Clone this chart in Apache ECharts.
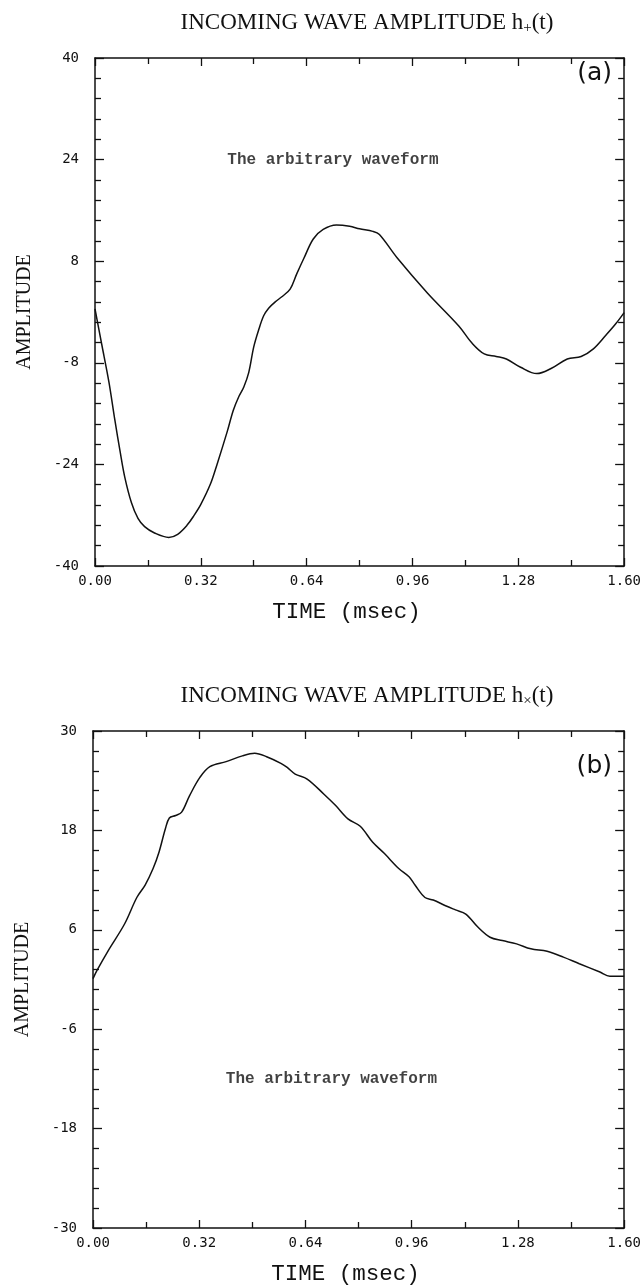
<!DOCTYPE html>
<html><head><meta charset="utf-8">
<script src="https://cdn.jsdelivr.net/npm/echarts@6/dist/echarts.min.js"></script>
<style>html,body{margin:0;padding:0;background:#fff}#c{width:644px;height:1287px}</style>
</head><body><div id="c"></div>
<script>
// ---- data (time in msec, amplitude) ----
const timeA = [0.00,0.02,0.042,0.06,0.076,0.09,0.11,0.13,0.15,0.18,0.223,0.25,0.278,0.30,0.32,0.349,0.369,0.40,0.418,0.435,0.45,0.465,0.48,0.495,0.51,0.525,0.545,0.565,0.59,0.61,0.632,0.66,0.69,0.73,0.77,0.80,0.84,0.86,0.914,1.005,1.10,1.14,1.177,1.213,1.244,1.287,1.336,1.379,1.428,1.47,1.507,1.544,1.574,1.60];
const ampA  = [0.5,-5,-11,-17,-22,-26,-30,-32.5,-33.8,-34.8,-35.5,-35,-33.6,-32,-30.3,-27.1,-24,-18.8,-15.5,-13.3,-11.8,-9.5,-5.5,-2.8,-0.6,0.6,1.6,2.4,3.6,6,8.5,11.5,13,13.7,13.5,13.1,12.7,12.2,8.5,3.0,-2.2,-4.9,-6.6,-7.0,-7.4,-8.7,-9.7,-8.9,-7.4,-7.0,-5.8,-3.7,-1.9,-0.1];
const timeB = [0.0,0.012,0.046,0.095,0.132,0.157,0.181,0.199,0.218,0.23,0.249,0.267,0.291,0.322,0.352,0.401,0.45,0.487,0.523,0.566,0.585,0.609,0.645,0.695,0.731,0.768,0.805,0.842,0.878,0.921,0.952,0.97,1.0,1.025,1.062,1.092,1.123,1.16,1.196,1.233,1.276,1.319,1.368,1.417,1.465,1.527,1.557,1.6];
const ampB  = [0.1,1.1,3.5,6.7,9.9,11.4,13.4,15.4,18.2,19.5,19.8,20.2,22.2,24.4,25.7,26.3,27.0,27.3,26.9,26.1,25.6,24.8,24.2,22.4,21.0,19.4,18.5,16.6,15.2,13.4,12.4,11.4,9.9,9.6,8.9,8.4,7.9,6.3,5.1,4.7,4.3,3.7,3.4,2.7,1.9,0.9,0.4,0.4];
const xRange = [0, 1.6], xStep = 0.32;
const yRangeA = [-40, 40], yStepA = 16;
const yRangeB = [-30, 30], yStepB = 12;
const titleA = ['INCOMING WAVE AMPLITUDE h', '+', '(t)'];
const titleB = ['INCOMING WAVE AMPLITUDE h', '×', '(t)'];
const note = 'The arbitrary waveform';
const noteA = [0.40, 24], noteB = [0.40, -12];

const chart = echarts.init(document.getElementById('c'), null, {renderer: 'canvas'});
const ink = '#111';
const tickFont = 'DejaVu Sans Mono';

function xAx(grid, pos, labels) {
  return {
    type: 'value', gridIndex: grid, position: pos, min: xRange[0], max: xRange[1], interval: xStep,
    name: labels ? 'TIME (msec)' : '', nameLocation: 'middle', nameGap: 35,
    nameTextStyle: {fontFamily: 'Liberation Mono', fontSize: 22.5, color: ink, padding: [0, 26, 0, 0]},
    axisLine: {show: true, onZero: false, lineStyle: {color: ink, width: 1.5}},
    axisTick: {show: true, inside: true, length: 8, lineStyle: {color: ink, width: 1.3}},
    minorTick: {show: true, splitNumber: 2, length: 6, lineStyle: {color: ink, width: 1.3}},
    splitLine: {show: false}, minorSplitLine: {show: false},
    axisLabel: {show: labels, margin: 8, fontFamily: tickFont, fontSize: 14, color: ink,
      showMinLabel: true, showMaxLabel: true, formatter: v => v.toFixed(2)}
  };
}
function yAx(grid, pos, rng, step, labels) {
  return {
    type: 'value', gridIndex: grid, position: pos, min: rng[0], max: rng[1], interval: step,
    name: labels ? 'AMPLITUDE' : '', nameLocation: 'middle', nameGap: 60, nameRotate: 90,
    nameTextStyle: {fontFamily: 'Liberation Serif', fontSize: 20, color: ink},
    axisLine: {show: true, onZero: false, lineStyle: {color: ink, width: 1.5}},
    axisTick: {show: true, inside: true, length: 9, lineStyle: {color: ink, width: 1.3}},
    minorTick: {show: true, splitNumber: 5, length: 6, lineStyle: {color: ink, width: 1.3}},
    splitLine: {show: false}, minorSplitLine: {show: false},
    axisLabel: {show: labels, margin: 16, fontFamily: tickFont, fontSize: 14, color: ink,
      showMinLabel: true, showMaxLabel: true, formatter: v => String(Math.round(v))}
  };
}
function titleOf(parts, top) {
  return {
    text: '{m|' + parts[0] + '}{s|' + parts[1] + '}{m|' + parts[2] + '}',
    left: 362, textAlign: 'center', top: top,
    textStyle: {fontWeight: 'normal', rich: {
      m: {fontFamily: 'Liberation Serif', fontWeight: 'normal', fontSize: 23, color: ink, lineHeight: 30},
      s: {fontFamily: 'Liberation Serif', fontWeight: 'normal', fontSize: 15, color: ink, lineHeight: 30, padding: [10, 0, 0, 0]}
    }}
  };
}
const zip = (a, b) => a.map((t, i) => [t, b[i]]);
const noteLabel = {show: true, position: 'right', distance: 0, formatter: note,
  fontFamily: 'Liberation Mono', fontWeight: 'bold', fontSize: 16, color: ink};

chart.setOption({
  animation: false,
  backgroundColor: '#fff',
  title: [titleOf(titleA, 3), titleOf(titleB, 676)],
  grid: [
    {left: 95, right: 14, top: 58, height: 508},
    {left: 93, right: 14, top: 731, height: 501}
  ],
  xAxis: [xAx(0, 'bottom', true), xAx(0, 'top', false), xAx(1, 'bottom', true), xAx(1, 'top', false)],
  yAxis: [yAx(0, 'left', yRangeA, yStepA, true), yAx(0, 'right', yRangeA, yStepA, false),
          yAx(1, 'left', yRangeB, yStepB, true), yAx(1, 'right', yRangeB, yStepB, false)],
  graphic: [
    {type: 'text', right: 32, top: 61, style: {text: '(a)', font: '25px "DejaVu Sans"', fill: ink}},
    {type: 'text', right: 32, top: 754, style: {text: '(b)', font: '25px "DejaVu Sans"', fill: ink}}
  ],
  series: [
    {type: 'line', xAxisIndex: 0, yAxisIndex: 0, data: zip(timeA, ampA), smooth: 0.35, showSymbol: false,
      lineStyle: {color: ink, width: 1.5}},
    {type: 'line', xAxisIndex: 2, yAxisIndex: 2, data: zip(timeB, ampB), smooth: 0.35, showSymbol: false,
      lineStyle: {color: ink, width: 1.5}},
    {type: 'scatter', xAxisIndex: 0, yAxisIndex: 0, data: [noteA], symbolSize: 0, silent: true, label: noteLabel},
    {type: 'scatter', xAxisIndex: 2, yAxisIndex: 2, data: [noteB], symbolSize: 0, silent: true, label: noteLabel}
  ]
});
</script></body></html>
